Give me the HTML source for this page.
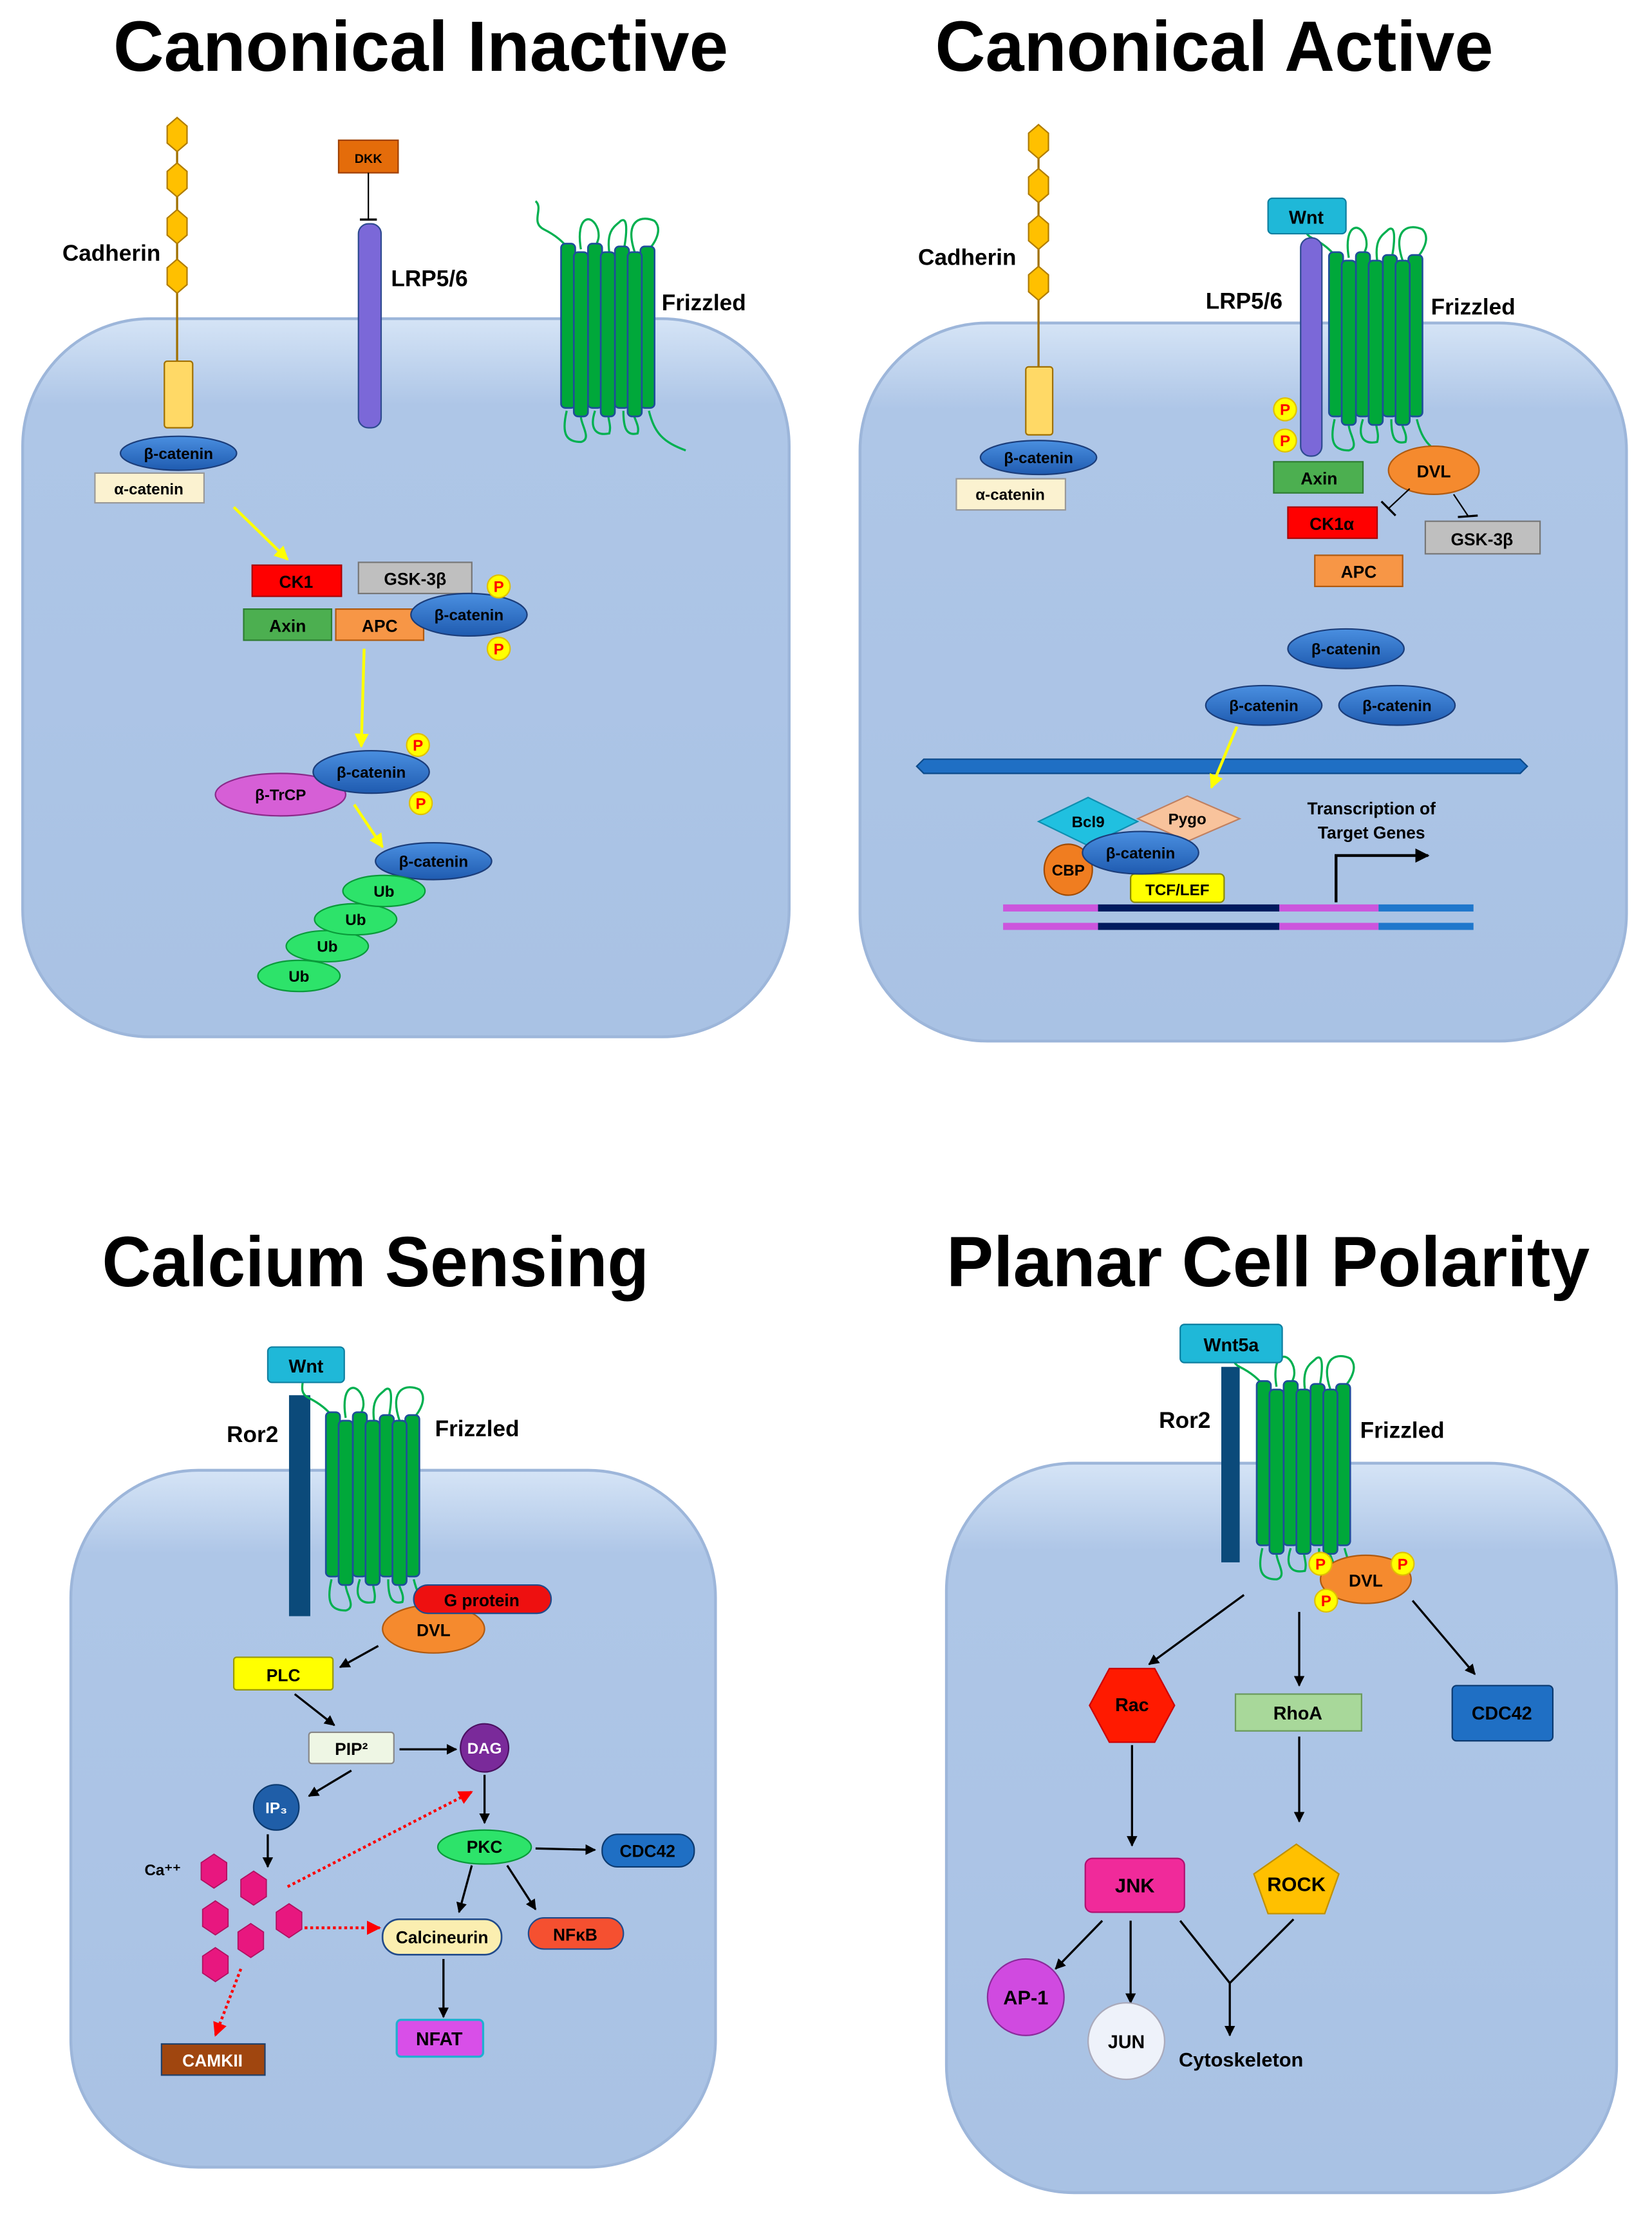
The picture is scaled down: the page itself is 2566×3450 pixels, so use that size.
<!DOCTYPE html>
<html><head><meta charset="utf-8"><style>
html,body{margin:0;padding:0;background:#fff;width:2566px;height:3450px;overflow:hidden}
svg{display:block}
text{font-family:"Liberation Sans Narrow","Liberation Sans",sans-serif;font-weight:bold;fill:#000}
</style></head><body>
<svg width="2566" height="3450" viewBox="0 0 1166 1568" preserveAspectRatio="none" xmlns="http://www.w3.org/2000/svg">
<defs>
<linearGradient id="cell" x1="0" y1="0" x2="0" y2="1"><stop offset="0" stop-color="#d5e4f6"/><stop offset="0.12" stop-color="#aec6e7"/><stop offset="1" stop-color="#a9c2e4"/></linearGradient>
<linearGradient id="bl" x1="0" y1="0" x2="0" y2="1"><stop offset="0" stop-color="#4a8fe0"/><stop offset="1" stop-color="#1f5bb0"/></linearGradient>
<marker id="ah" viewBox="0 0 10 10" refX="9" refY="5" markerWidth="5" markerHeight="5" orient="auto"><path d="M0,0L10,5L0,10z" fill="#000"/></marker>
<marker id="ahy" viewBox="0 0 10 10" refX="9" refY="5" markerWidth="5" markerHeight="5" orient="auto"><path d="M0,0L10,5L0,10z" fill="#ffff00"/></marker>
<marker id="ahr" viewBox="0 0 10 10" refX="9" refY="5" markerWidth="5" markerHeight="5" orient="auto"><path d="M0,0L10,5L0,10z" fill="#ff0000"/></marker>
<g id="fz">
<path d="M-18,-30 C-12,-25 -22,-15 -12,-10 C-2,-5 2,0 4,2 M14,4 C10,-20 22,-22 26,-10 C28,-2 24,0 24,4 M34,6 C32,-10 38,-12 42,-16 C48,-20 46,-4 44,6 M52,6 C44,-18 58,-20 66,-16 C72,-10 66,0 62,4" fill="none" stroke="#00b050" stroke-width="1.5"/>
<path d="M4,118 C0,135 4,140 14,140 C22,138 14,128 14,122 M24,118 C20,130 24,136 34,134 C36,128 32,122 34,120 M44,118 C44,130 46,136 54,134 C56,128 50,122 52,120 M62,118 C66,134 72,140 88,146" fill="none" stroke="#00b050" stroke-width="1.5"/>
<rect x="0" y="0" width="10" height="116" rx="3" fill="#00a83a" stroke="#1f4e9a" stroke-width="1.2"/>
<rect x="19" y="0" width="10" height="116" rx="3" fill="#00a83a" stroke="#1f4e9a" stroke-width="1.2"/>
<rect x="38" y="2" width="10" height="114" rx="3" fill="#00a83a" stroke="#1f4e9a" stroke-width="1.2"/>
<rect x="56" y="2" width="10" height="114" rx="3" fill="#00a83a" stroke="#1f4e9a" stroke-width="1.2"/>
<rect x="9" y="6" width="10" height="116" rx="3" fill="#00a83a" stroke="#1f4e9a" stroke-width="1.2"/>
<rect x="28" y="6" width="10" height="116" rx="3" fill="#00a83a" stroke="#1f4e9a" stroke-width="1.2"/>
<rect x="47" y="6" width="10" height="116" rx="3" fill="#00a83a" stroke="#1f4e9a" stroke-width="1.2"/>
</g>
<polygon id="hex" points="0,-12 7,-6 7,6 0,12 -7,6 -7,-6" fill="#ffc000" stroke="#b07c00" stroke-width="1"/>
<polygon id="phex" points="0,-12 9,-6 9,6 0,12 -9,6 -9,-6" fill="#e8177f" stroke="#b01060" stroke-width="0.8"/>
<g id="P"><circle r="8" fill="#ffff00" stroke="#e0c000"/><text x="0" y="4" font-size="11" text-anchor="middle" style="fill:#ff0000">P</text></g>
</defs>

<!-- cells -->
<rect x="16" y="225" width="541" height="507" rx="90" fill="url(#cell)" stroke="#9db6da" stroke-width="2"/>
<rect x="607" y="228" width="541" height="507" rx="90" fill="url(#cell)" stroke="#9db6da" stroke-width="2"/>
<rect x="50" y="1038" width="455" height="492" rx="90" fill="url(#cell)" stroke="#9db6da" stroke-width="2"/>
<rect x="668" y="1033" width="473" height="515" rx="90" fill="url(#cell)" stroke="#9db6da" stroke-width="2"/>

<!-- titles -->
<text x="80" y="50" font-size="50" textLength="434" lengthAdjust="spacingAndGlyphs">Canonical Inactive</text>
<text x="660" y="50" font-size="50" textLength="394" lengthAdjust="spacingAndGlyphs">Canonical Active</text>
<text x="72" y="908" font-size="50" textLength="386" lengthAdjust="spacingAndGlyphs">Calcium Sensing</text>
<text x="668" y="908" font-size="50" textLength="454" lengthAdjust="spacingAndGlyphs">Planar Cell Polarity</text>

<!-- ===== TL ===== -->
<line x1="125" y1="95" x2="125" y2="258" stroke="#a07000" stroke-width="1.5"/>
<use href="#hex" x="125" y="95"/><use href="#hex" x="125" y="127"/><use href="#hex" x="125" y="160"/><use href="#hex" x="125" y="195"/>
<rect x="116" y="255" width="20" height="47" rx="2" fill="#ffd966" stroke="#a07000"/>
<text x="44" y="184" font-size="16">Cadherin</text>
<rect x="239" y="99" width="42" height="23" fill="#e46c0a" stroke="#a04000"/>
<text x="260" y="115" font-size="9" text-anchor="middle">DKK</text>
<line x1="260" y1="122" x2="260" y2="155" stroke="#000"/><line x1="254" y1="155" x2="266" y2="155" stroke="#000" stroke-width="1.5"/>
<rect x="253" y="158" width="16" height="144" rx="7" fill="#7b68d8" stroke="#2e4a90"/>
<text x="276" y="202" font-size="16">LRP5/6</text>
<use href="#fz" x="396" y="172"/>
<text x="467" y="219" font-size="16">Frizzled</text>
<ellipse cx="126" cy="320" rx="41" ry="12" fill="url(#bl)" stroke="#1b3d7a"/><text x="126" y="324" font-size="11" text-anchor="middle">β-catenin</text>
<rect x="67" y="334" width="77" height="21" fill="#fbf2d0" stroke="#999"/><text x="105" y="349" font-size="11" text-anchor="middle">α-catenin</text>
<line x1="165" y1="358" x2="203" y2="395" stroke="#ffff00" stroke-width="2" marker-end="url(#ahy)"/>
<rect x="178" y="399" width="63" height="22" fill="#ff0000" stroke="#a00"/><text x="209" y="415" font-size="12" text-anchor="middle">CK1</text>
<rect x="253" y="397" width="80" height="22" fill="#bfbfbf" stroke="#777"/><text x="293" y="413" font-size="12" text-anchor="middle">GSK-3β</text>
<rect x="172" y="430" width="62" height="22" fill="#4caf50" stroke="#2e7d32"/><text x="203" y="446" font-size="12" text-anchor="middle">Axin</text>
<rect x="237" y="430" width="62" height="22" fill="#f79646" stroke="#b05a10"/><text x="268" y="446" font-size="12" text-anchor="middle">APC</text>
<ellipse cx="331" cy="434" rx="41" ry="15" fill="url(#bl)" stroke="#1b3d7a"/><text x="331" y="438" font-size="11" text-anchor="middle">β-catenin</text>
<use href="#P" x="352" y="414"/><use href="#P" x="352" y="458"/>
<line x1="257" y1="458" x2="255" y2="527" stroke="#ffff00" stroke-width="2" marker-end="url(#ahy)"/>
<ellipse cx="198" cy="561" rx="46" ry="15" fill="#d65fd6" stroke="#8a2a8a"/><text x="198" y="565" font-size="11" text-anchor="middle">β-TrCP</text>
<ellipse cx="262" cy="545" rx="41" ry="15" fill="url(#bl)" stroke="#1b3d7a"/><text x="262" y="549" font-size="11" text-anchor="middle">β-catenin</text>
<use href="#P" x="295" y="526"/><use href="#P" x="297" y="567"/>
<line x1="250" y1="568" x2="270" y2="598" stroke="#ffff00" stroke-width="2" marker-end="url(#ahy)"/>
<ellipse cx="306" cy="608" rx="41" ry="13" fill="url(#bl)" stroke="#1b3d7a"/><text x="306" y="612" font-size="11" text-anchor="middle">β-catenin</text>
<g fill="#2de36a" stroke="#0a9a3a">
<ellipse cx="211" cy="689" rx="29" ry="11"/><ellipse cx="231" cy="668" rx="29" ry="11"/><ellipse cx="251" cy="649" rx="29" ry="11"/><ellipse cx="271" cy="629" rx="29" ry="11"/></g>
<text x="211" y="693" font-size="11" text-anchor="middle">Ub</text><text x="231" y="672" font-size="11" text-anchor="middle">Ub</text><text x="251" y="653" font-size="11" text-anchor="middle">Ub</text><text x="271" y="633" font-size="11" text-anchor="middle">Ub</text>

<!-- ===== TR ===== -->
<line x1="733" y1="100" x2="733" y2="262" stroke="#a07000" stroke-width="1.5"/>
<use href="#hex" x="733" y="100"/><use href="#hex" x="733" y="131"/><use href="#hex" x="733" y="164"/><use href="#hex" x="733" y="200"/>
<rect x="724" y="259" width="19" height="48" rx="2" fill="#ffd966" stroke="#a07000"/>
<text x="648" y="187" font-size="16">Cadherin</text>
<ellipse cx="733" cy="323" rx="41" ry="12" fill="url(#bl)" stroke="#1b3d7a"/><text x="733" y="327" font-size="11" text-anchor="middle">β-catenin</text>
<rect x="675" y="338" width="77" height="22" fill="#fbf2d0" stroke="#999"/><text x="713" y="353" font-size="11" text-anchor="middle">α-catenin</text>
<use href="#fz" x="938" y="178"/>
<rect x="918" y="168" width="15" height="154" rx="7" fill="#7b68d8" stroke="#2e4a90"/>
<rect x="895" y="140" width="55" height="25" rx="3" fill="#1fb8d8" stroke="#0e7fa0"/><text x="922" y="158" font-size="13" text-anchor="middle">Wnt</text>
<text x="851" y="218" font-size="16">LRP5/6</text>
<text x="1010" y="222" font-size="16">Frizzled</text>
<use href="#P" x="907" y="289"/><use href="#P" x="907" y="311"/>
<rect x="899" y="326" width="63" height="22" fill="#4caf50" stroke="#2e7d32"/><text x="931" y="342" font-size="12" text-anchor="middle">Axin</text>
<ellipse cx="1012" cy="332" rx="32" ry="17" fill="#f58a2e" stroke="#b05a10"/><text x="1012" y="337" font-size="12" text-anchor="middle">DVL</text>
<rect x="909" y="358" width="63" height="22" fill="#ff0000" stroke="#a00"/><text x="940" y="374" font-size="12" text-anchor="middle">CK1α</text>
<rect x="1006" y="368" width="81" height="23" fill="#bfbfbf" stroke="#777"/><text x="1046" y="385" font-size="12" text-anchor="middle">GSK-3β</text>
<rect x="928" y="392" width="62" height="22" fill="#f79646" stroke="#b05a10"/><text x="959" y="408" font-size="12" text-anchor="middle">APC</text>
<line x1="995" y1="345" x2="980" y2="359" stroke="#000"/><line x1="975" y1="354" x2="985" y2="364" stroke="#000" stroke-width="1.5"/>
<line x1="1026" y1="349" x2="1036" y2="364" stroke="#000"/><line x1="1029" y1="365" x2="1043" y2="364" stroke="#000" stroke-width="1.5"/>
<ellipse cx="950" cy="458" rx="41" ry="14" fill="url(#bl)" stroke="#1b3d7a"/><text x="950" y="462" font-size="11" text-anchor="middle">β-catenin</text>
<ellipse cx="892" cy="498" rx="41" ry="14" fill="url(#bl)" stroke="#1b3d7a"/><text x="892" y="502" font-size="11" text-anchor="middle">β-catenin</text>
<ellipse cx="986" cy="498" rx="41" ry="14" fill="url(#bl)" stroke="#1b3d7a"/><text x="986" y="502" font-size="11" text-anchor="middle">β-catenin</text>
<path d="M647,541 L652,536 L1073,536 L1078,541 L1073,546 L652,546 Z" fill="#1f6fc4" stroke="#0c4a8a"/>
<line x1="873" y1="513" x2="855" y2="556" stroke="#ffff00" stroke-width="2" marker-end="url(#ahy)"/>
<polygon points="733,580 768,563 803,580 768,597" fill="#20c0e0" stroke="#0e8fb0"/><text x="768" y="584" font-size="11" text-anchor="middle">Bcl9</text>
<polygon points="803,578 838,562 875,578 838,594" fill="#f8c39c" stroke="#c08060"/><text x="838" y="582" font-size="11" text-anchor="middle">Pygo</text>
<ellipse cx="754" cy="614" rx="17" ry="18" fill="#f07d20" stroke="#a04a00"/><text x="754" y="618" font-size="11" text-anchor="middle">CBP</text>
<rect x="798" y="617" width="66" height="20" rx="3" fill="#ffff00" stroke="#8a8a00"/><text x="831" y="632" font-size="11" text-anchor="middle">TCF/LEF</text>
<ellipse cx="805" cy="602" rx="41" ry="15" fill="url(#bl)" stroke="#1b3d7a"/><text x="805" y="606" font-size="11" text-anchor="middle">β-catenin</text>
<g stroke-width="5"><line x1="708" y1="641" x2="775" y2="641" stroke="#cc55dd"/><line x1="775" y1="641" x2="903" y2="641" stroke="#001a5e"/><line x1="903" y1="641" x2="973" y2="641" stroke="#cc55dd"/><line x1="973" y1="641" x2="1040" y2="641" stroke="#1f77cc"/>
<line x1="708" y1="654" x2="775" y2="654" stroke="#cc55dd"/><line x1="775" y1="654" x2="903" y2="654" stroke="#001a5e"/><line x1="903" y1="654" x2="973" y2="654" stroke="#cc55dd"/><line x1="973" y1="654" x2="1040" y2="654" stroke="#1f77cc"/></g>
<path d="M943,637 L943,604 L1008,604" fill="none" stroke="#000" stroke-width="2" marker-end="url(#ah)"/>
<text x="968" y="575" font-size="12" text-anchor="middle">Transcription of</text>
<text x="968" y="592" font-size="12" text-anchor="middle">Target Genes</text>

<!-- ===== BL ===== -->
<rect x="204" y="985" width="15" height="156" fill="#0b4a7a"/>
<use href="#fz" x="230" y="997"/>
<rect x="189" y="951" width="54" height="25" rx="3" fill="#1fb8d8" stroke="#0e7fa0"/><text x="216" y="969" font-size="13" text-anchor="middle">Wnt</text>
<text x="160" y="1018" font-size="16">Ror2</text>
<text x="307" y="1014" font-size="16">Frizzled</text>
<ellipse cx="306" cy="1150" rx="36" ry="17" fill="#f58a2e" stroke="#b05a10"/><text x="306" y="1155" font-size="12" text-anchor="middle">DVL</text>
<rect x="292" y="1119" width="97" height="20" rx="10" fill="#ee1010" stroke="#204a8a"/><text x="340" y="1134" font-size="12" text-anchor="middle">G protein</text>
<rect x="165" y="1170" width="70" height="23" rx="2" fill="#ffff00" stroke="#9a9a00"/><text x="200" y="1187" font-size="12" text-anchor="middle">PLC</text>
<line x1="267" y1="1162" x2="240" y2="1177" stroke="#000" stroke-width="1.5" marker-end="url(#ah)"/>
<line x1="208" y1="1196" x2="236" y2="1218" stroke="#000" stroke-width="1.5" marker-end="url(#ah)"/>
<rect x="218" y="1223" width="60" height="22" rx="2" fill="#eef6e4" stroke="#888"/><text x="248" y="1239" font-size="12" text-anchor="middle">PIP²</text>
<line x1="282" y1="1235" x2="322" y2="1235" stroke="#000" stroke-width="1.5" marker-end="url(#ah)"/>
<circle cx="342" cy="1234" r="17" fill="#7a2a9a" stroke="#4a1060"/><text x="342" y="1238" font-size="11" text-anchor="middle" style="fill:#fff">DAG</text>
<line x1="248" y1="1250" x2="218" y2="1268" stroke="#000" stroke-width="1.5" marker-end="url(#ah)"/>
<circle cx="195" cy="1276" r="16" fill="#1f5ea8" stroke="#0c3a70"/><text x="195" y="1280" font-size="11" text-anchor="middle" style="fill:#fff">IP₃</text>
<line x1="189" y1="1295" x2="189" y2="1318" stroke="#000" stroke-width="1.5" marker-end="url(#ah)"/>
<text x="102" y="1324" font-size="11">Ca⁺⁺</text>
<use href="#phex" x="151" y="1321"/><use href="#phex" x="179" y="1333"/><use href="#phex" x="152" y="1354"/><use href="#phex" x="204" y="1356"/><use href="#phex" x="177" y="1370"/><use href="#phex" x="152" y="1387"/>
<line x1="203" y1="1332" x2="333" y2="1265" stroke="#ff0000" stroke-width="2" stroke-dasharray="2,2" marker-end="url(#ahr)"/>
<line x1="215" y1="1361" x2="268" y2="1361" stroke="#ff0000" stroke-width="2" stroke-dasharray="2,2" marker-end="url(#ahr)"/>
<line x1="170" y1="1390" x2="152" y2="1437" stroke="#ff0000" stroke-width="2" stroke-dasharray="2,2" marker-end="url(#ahr)"/>
<line x1="342" y1="1253" x2="342" y2="1287" stroke="#000" stroke-width="1.5" marker-end="url(#ah)"/>
<ellipse cx="342" cy="1304" rx="33" ry="12" fill="#2de36a" stroke="#0a9a3a"/><text x="342" y="1308" font-size="12" text-anchor="middle">PKC</text>
<line x1="378" y1="1305" x2="420" y2="1306" stroke="#000" stroke-width="1.5" marker-end="url(#ah)"/>
<rect x="425" y="1295" width="65" height="23" rx="11" fill="#1f6fc4" stroke="#0c3a70"/><text x="457" y="1311" font-size="12" text-anchor="middle">CDC42</text>
<line x1="333" y1="1317" x2="324" y2="1350" stroke="#000" stroke-width="1.5" marker-end="url(#ah)"/>
<line x1="358" y1="1317" x2="378" y2="1348" stroke="#000" stroke-width="1.5" marker-end="url(#ah)"/>
<rect x="270" y="1355" width="84" height="25" rx="12" fill="#fbeeb0" stroke="#204a8a" stroke-width="1.2"/><text x="312" y="1372" font-size="12" text-anchor="middle">Calcineurin</text>
<rect x="373" y="1354" width="67" height="22" rx="11" fill="#f55030" stroke="#204a8a"/><text x="406" y="1370" font-size="12" text-anchor="middle">NFκB</text>
<line x1="313" y1="1383" x2="313" y2="1424" stroke="#000" stroke-width="1.5" marker-end="url(#ah)"/>
<rect x="280" y="1426" width="61" height="26" rx="3" fill="#d84fe8" stroke="#20b0d0" stroke-width="1.5"/><text x="310" y="1444" font-size="13" text-anchor="middle">NFAT</text>
<rect x="114" y="1443" width="73" height="22" fill="#a0460f" stroke="#20406a"/><text x="150" y="1459" font-size="12" text-anchor="middle" style="fill:#fff">CAMKII</text>

<!-- ===== BR ===== -->
<rect x="862" y="965" width="13" height="138" fill="#0b4a7a"/>
<use href="#fz" x="887" y="975"/>
<rect x="833" y="935" width="72" height="27" rx="3" fill="#1fb8d8" stroke="#0e7fa0"/><text x="869" y="954" font-size="13" text-anchor="middle">Wnt5a</text>
<text x="818" y="1008" font-size="16">Ror2</text>
<text x="960" y="1015" font-size="16">Frizzled</text>
<ellipse cx="964" cy="1115" rx="32" ry="17" fill="#f58a2e" stroke="#b05a10"/><text x="964" y="1120" font-size="12" text-anchor="middle">DVL</text>
<use href="#P" x="932" y="1104"/><use href="#P" x="990" y="1104"/><use href="#P" x="936" y="1130"/>
<line x1="878" y1="1126" x2="811" y2="1175" stroke="#000" stroke-width="1.5" marker-end="url(#ah)"/>
<line x1="917" y1="1138" x2="917" y2="1190" stroke="#000" stroke-width="1.5" marker-end="url(#ah)"/>
<line x1="997" y1="1130" x2="1041" y2="1182" stroke="#000" stroke-width="1.5" marker-end="url(#ah)"/>
<polygon points="783,1178 815,1178 829,1204 815,1230 783,1230 769,1204" fill="#ff1a00" stroke="#c00"/><text x="799" y="1208" font-size="13" text-anchor="middle">Rac</text>
<rect x="872" y="1196" width="89" height="26" fill="#a8d89a" stroke="#6a9a5a"/><text x="916" y="1214" font-size="13" text-anchor="middle">RhoA</text>
<rect x="1025" y="1190" width="71" height="39" rx="3" fill="#1f6fc4" stroke="#0c3a70"/><text x="1060" y="1214" font-size="13" text-anchor="middle">CDC42</text>
<line x1="799" y1="1232" x2="799" y2="1303" stroke="#000" stroke-width="1.5" marker-end="url(#ah)"/>
<line x1="917" y1="1226" x2="917" y2="1286" stroke="#000" stroke-width="1.5" marker-end="url(#ah)"/>
<rect x="766" y="1312" width="70" height="38" rx="5" fill="#f02a9a" stroke="#b01070"/><text x="801" y="1336" font-size="14" text-anchor="middle">JNK</text>
<polygon points="915,1302 945,1323 935,1351 895,1351 885,1323" fill="#ffc000" stroke="#c09000"/><text x="915" y="1335" font-size="14" text-anchor="middle">ROCK</text>
<line x1="778" y1="1356" x2="745" y2="1390" stroke="#000" stroke-width="1.5" marker-end="url(#ah)"/>
<line x1="798" y1="1356" x2="798" y2="1414" stroke="#000" stroke-width="1.5" marker-end="url(#ah)"/>
<path d="M833,1356 L868,1400 L913,1355" fill="none" stroke="#000" stroke-width="1.5"/>
<line x1="868" y1="1400" x2="868" y2="1437" stroke="#000" stroke-width="1.5" marker-end="url(#ah)"/>
<circle cx="724" cy="1410" r="27" fill="#d04ae0" stroke="#8a2a9a"/><text x="724" y="1415" font-size="14" text-anchor="middle">AP-1</text>
<circle cx="795" cy="1441" r="27" fill="#eef2fa" stroke="#aab"/><text x="795" y="1446" font-size="13" text-anchor="middle">JUN</text>
<text x="832" y="1459" font-size="14">Cytoskeleton</text>
</svg>
</body></html>
